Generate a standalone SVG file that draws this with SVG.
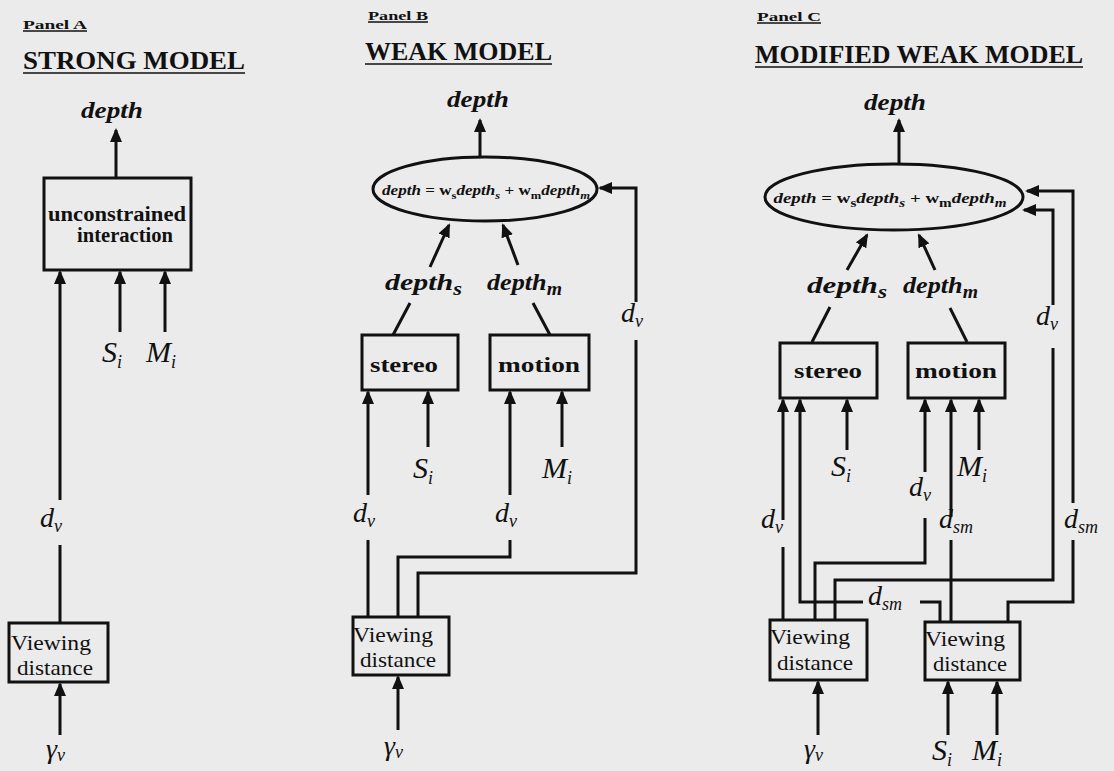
<svg xmlns="http://www.w3.org/2000/svg" width="1114" height="771" viewBox="0 0 1114 771">
<defs>
<marker id="ah" viewBox="0 0 14 12" refX="12" refY="6" markerWidth="14" markerHeight="12" markerUnits="userSpaceOnUse" orient="auto"><path d="M0,0 L14,6 L0,12 z" fill="#111"/></marker>
<style>
.ln{stroke:#111;stroke-width:3;fill:none}
.ar{stroke:#111;stroke-width:3;fill:none;marker-end:url(#ah)}
.ul{stroke:#111;stroke-width:1.6}
.box{fill:none;stroke:#111;stroke-width:3}
text{font-family:"Liberation Serif","DejaVu Serif",serif;fill:#111}
.pn{font-size:13px;font-weight:bold}
.ttl{font-size:25px;font-weight:bold}
.dep{font-size:24px;font-weight:bold;font-style:italic}
.bx{font-size:20px;font-weight:bold}
.vd{font-size:21px}
.var{font-size:30px;font-style:italic}
.vars{font-size:28px;font-style:italic}
.sub{font-size:18px}
.eq{font-size:15px;font-weight:bold}
.it{font-style:italic}
.m{text-anchor:middle}
</style>
</defs>
<rect width="1114" height="771" fill="#ebebeb"/>

<!-- Panel titles -->
<g id="titles">
<text class="pn" x="23" y="29" textLength="64" lengthAdjust="spacingAndGlyphs">Panel A</text>
<line class="ul" x1="23" y1="31" x2="87" y2="31"/>
<text class="ttl" x="23" y="69" textLength="222" lengthAdjust="spacingAndGlyphs">STRONG MODEL</text>
<line class="ul" x1="23" y1="73" x2="245" y2="73"/>
<text class="pn" x="368" y="20" textLength="60" lengthAdjust="spacingAndGlyphs">Panel B</text>
<line class="ul" x1="368" y1="22" x2="428" y2="22"/>
<text class="ttl" x="365" y="60" textLength="187" lengthAdjust="spacingAndGlyphs">WEAK MODEL</text>
<line class="ul" x1="365" y1="64" x2="552" y2="64"/>
<text class="pn" x="757" y="21" textLength="64" lengthAdjust="spacingAndGlyphs">Panel C</text>
<line class="ul" x1="757" y1="23" x2="821" y2="23"/>
<text class="ttl" x="755" y="63" textLength="328" lengthAdjust="spacingAndGlyphs">MODIFIED WEAK MODEL</text>
<line class="ul" x1="755" y1="67" x2="1083" y2="67"/>
</g>

<!-- Panel A nodes -->
<g id="a-interaction">
<rect class="box" x="44" y="178" width="147" height="92"/>
<text class="bx m" x="117" y="221" textLength="138" lengthAdjust="spacingAndGlyphs">unconstrained</text>
<text class="bx m" x="125" y="242" textLength="96" lengthAdjust="spacingAndGlyphs">interaction</text>
</g>
<g id="a-viewing">
<rect class="box" x="9" y="623" width="99" height="59"/>
<text class="vd m" x="51" y="650" textLength="80" lengthAdjust="spacingAndGlyphs">Viewing</text>
<text class="vd m" x="55" y="675" textLength="76" lengthAdjust="spacingAndGlyphs">distance</text>
</g>

<!-- Panel B nodes -->
<g id="b-combine">
<ellipse class="box" cx="485" cy="189" rx="112" ry="32"/>
<text class="eq m" x="486" y="195" textLength="208" lengthAdjust="spacingAndGlyphs"><tspan class="it">depth</tspan> = w<tspan dy="4" font-size="11">s</tspan><tspan dy="-4" class="it">depth</tspan><tspan dy="4" font-size="11" class="it">s</tspan><tspan dy="-4"> + w</tspan><tspan dy="4" font-size="11">m</tspan><tspan dy="-4" class="it">depth</tspan><tspan dy="4" font-size="11" class="it">m</tspan></text>
</g>
<g id="b-stereo">
<rect class="box" x="362" y="335" width="96" height="55"/>
<text class="bx m" x="404" y="372" textLength="68" lengthAdjust="spacingAndGlyphs">stereo</text>
</g>
<g id="b-motion">
<rect class="box" x="490" y="335" width="99" height="55"/>
<text class="bx m" x="539" y="372" textLength="82" lengthAdjust="spacingAndGlyphs">motion</text>
</g>
<g id="b-viewing">
<rect class="box" x="353" y="617" width="96" height="58"/>
<text class="vd m" x="393" y="642" textLength="80" lengthAdjust="spacingAndGlyphs">Viewing</text>
<text class="vd m" x="398" y="667" textLength="76" lengthAdjust="spacingAndGlyphs">distance</text>
</g>

<!-- Panel C nodes -->
<g id="c-combine">
<ellipse class="box" cx="894" cy="197" rx="129" ry="33"/>
<text class="eq m" x="890" y="203" font-size="16" textLength="233" lengthAdjust="spacingAndGlyphs"><tspan class="it">depth</tspan> = w<tspan dy="4" font-size="12">s</tspan><tspan dy="-4" class="it">depth</tspan><tspan dy="4" font-size="12" class="it">s</tspan><tspan dy="-4"> + w</tspan><tspan dy="4" font-size="12">m</tspan><tspan dy="-4" class="it">depth</tspan><tspan dy="4" font-size="12" class="it">m</tspan></text>
</g>
<g id="c-stereo">
<rect class="box" x="780" y="343" width="97" height="55"/>
<text class="bx m" x="828" y="378" textLength="68" lengthAdjust="spacingAndGlyphs">stereo</text>
</g>
<g id="c-motion">
<rect class="box" x="908" y="343" width="97" height="55"/>
<text class="bx m" x="956" y="378" textLength="82" lengthAdjust="spacingAndGlyphs">motion</text>
</g>
<g id="c-viewing1">
<rect class="box" x="770" y="620" width="97" height="60"/>
<text class="vd m" x="810" y="644" textLength="80" lengthAdjust="spacingAndGlyphs">Viewing</text>
<text class="vd m" x="815" y="670" textLength="76" lengthAdjust="spacingAndGlyphs">distance</text>
</g>
<g id="c-viewing2">
<rect class="box" x="925" y="622" width="95" height="58"/>
<text class="vd m" x="965" y="646" textLength="80" lengthAdjust="spacingAndGlyphs">Viewing</text>
<text class="vd m" x="970" y="671" textLength="74" lengthAdjust="spacingAndGlyphs">distance</text>
</g>

<!-- Connectors -->
<g id="connectors">
<!-- Panel A -->
<path class="ar" d="M116,178 L116,130"/>
<path class="ar" d="M60,500 L60,272"/>
<path class="ln" d="M60,545 L60,623"/>
<path class="ar" d="M120,332 L120,272"/>
<path class="ar" d="M165,332 L165,272"/>
<path class="ar" d="M60,735 L60,684"/>
<!-- Panel B -->
<path class="ar" d="M480,157 L480,120"/>
<path class="ar" d="M430,267 L449,225"/>
<path class="ar" d="M518,265 L503,225"/>
<path class="ln" d="M410,303 L393,335"/>
<path class="ln" d="M533,303 L550,335"/>
<path class="ar" d="M368,495 L368,392"/>
<path class="ln" d="M368,540 L368,617"/>
<path class="ar" d="M428,447 L428,392"/>
<path class="ar" d="M510,495 L510,392"/>
<path class="ln" d="M510,540 L510,557 L398,557 L398,617"/>
<path class="ar" d="M562,447 L562,392"/>
<path class="ln" d="M418,617 L418,573 L636,573 L636,340"/>
<path class="ar" d="M636,302 L636,188 L600,188"/>
<path class="ar" d="M398,730 L398,677"/>
<!-- Panel C -->
<path class="ar" d="M899,163 L899,120"/>
<path class="ar" d="M847,270 L867,235"/>
<path class="ar" d="M935,270 L919,235"/>
<path class="ln" d="M830,307 L812,342"/>
<path class="ln" d="M950,308 L967,342"/>
<path class="ar" d="M783,520 L783,400"/>
<path class="ln" d="M783,547 L783,620"/>
<path class="ar" d="M863,602 L800,602 L800,400"/>
<path class="ln" d="M920,602 L940,602 L940,622"/>
<path class="ar" d="M847,450 L847,400"/>
<path class="ar" d="M925,472 L925,400"/>
<path class="ln" d="M925,518 L925,563 L815,563 L815,620"/>
<path class="ar" d="M951,517 L951,400"/>
<path class="ln" d="M951,540 L951,622"/>
<path class="ar" d="M979,450 L979,400"/>
<path class="ln" d="M835,620 L835,580 L1053,580 L1053,348"/>
<path class="ar" d="M1053,305 L1053,210 L1024,210"/>
<path class="ln" d="M1008,622 L1008,602 L1073,602 L1073,540"/>
<path class="ar" d="M1073,503 L1073,191 L1027,191"/>
<path class="ar" d="M818,735 L818,682"/>
<path class="ar" d="M948,735 L948,682"/>
<path class="ar" d="M997,735 L997,682"/>
</g>

<!-- Labels -->
<g id="labels">
<!-- Panel A -->
<text class="dep m" x="112" y="118" textLength="62" lengthAdjust="spacingAndGlyphs">depth</text>
<text class="var" x="102" y="362">S<tspan class="sub" dy="6">i</tspan></text>
<text class="var" x="146" y="362">M<tspan class="sub" dy="6">i</tspan></text>
<text class="vars" x="40" y="527">d<tspan class="sub" dy="5">v</tspan></text>
<text class="vars" x="46" y="758">γ<tspan class="sub" dy="3">v</tspan></text>
<!-- Panel B -->
<text class="dep m" x="478" y="107" textLength="62" lengthAdjust="spacingAndGlyphs">depth</text>
<text class="dep" x="385" y="290" textLength="77" lengthAdjust="spacingAndGlyphs">depth<tspan class="sub" dy="5">s</tspan></text>
<text class="dep" x="487" y="290" textLength="75" lengthAdjust="spacingAndGlyphs">depth<tspan class="sub" dy="5">m</tspan></text>
<text class="vars" x="353" y="522">d<tspan class="sub" dy="5">v</tspan></text>
<text class="vars" x="495" y="522">d<tspan class="sub" dy="5">v</tspan></text>
<text class="vars" x="621" y="322">d<tspan class="sub" dy="5">v</tspan></text>
<text class="var" x="413" y="478">S<tspan class="sub" dy="6">i</tspan></text>
<text class="var" x="542" y="478">M<tspan class="sub" dy="6">i</tspan></text>
<text class="vars" x="384" y="755">γ<tspan class="sub" dy="3">v</tspan></text>
<!-- Panel C -->
<text class="dep m" x="895" y="110" textLength="62" lengthAdjust="spacingAndGlyphs">depth</text>
<text class="dep" x="807" y="293" textLength="80" lengthAdjust="spacingAndGlyphs">depth<tspan class="sub" dy="5">s</tspan></text>
<text class="dep" x="903" y="293" textLength="75" lengthAdjust="spacingAndGlyphs">depth<tspan class="sub" dy="5">m</tspan></text>
<text class="var" x="831" y="476">S<tspan class="sub" dy="6">i</tspan></text>
<text class="var" x="957" y="476">M<tspan class="sub" dy="6">i</tspan></text>
<text class="vars" x="761" y="528">d<tspan class="sub" dy="5">v</tspan></text>
<text class="vars" x="909" y="496">d<tspan class="sub" dy="5">v</tspan></text>
<text class="vars" x="939" y="528">d<tspan class="sub" dy="5">sm</tspan></text>
<text class="vars" x="1064" y="528">d<tspan class="sub" dy="5">sm</tspan></text>
<text class="vars" x="868" y="605">d<tspan class="sub" dy="5">sm</tspan></text>
<text class="vars" x="1036" y="325">d<tspan class="sub" dy="5">v</tspan></text>
<text class="vars" x="804" y="758">γ<tspan class="sub" dy="3">v</tspan></text>
<text class="var" x="932" y="760">S<tspan class="sub" dy="6">i</tspan></text>
<text class="var" x="972" y="760">M<tspan class="sub" dy="6">i</tspan></text>
</g>
</svg>
